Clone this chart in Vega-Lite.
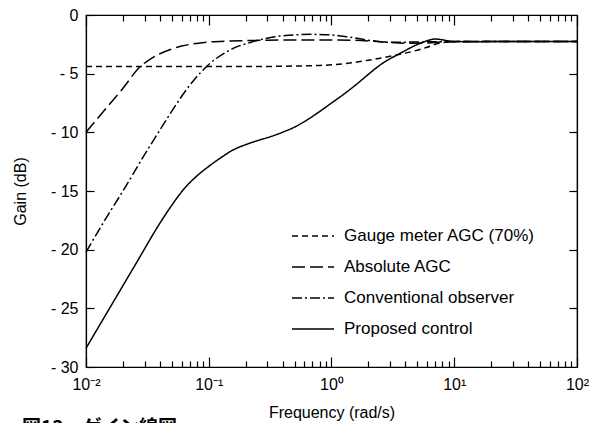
{
  "$schema": "https://vega.github.io/schema/vega-lite/v6.json",
  "autosize": {"type": "none"},
  "width": 491,
  "height": 352,
  "padding": {"left": 86, "top": 15, "right": 24, "bottom": 56},
  "background": "white",
  "config": {
    "view": {"stroke": "black", "strokeWidth": 1.2},
    "font": "Liberation Sans",
    "axis": {
      "domainColor": "black", "domainWidth": 1.2, "tickColor": "black", "tickWidth": 1.2,
      "labelColor": "black", "labelFont": "Liberation Sans", "labelFontSize": 16,
      "titleColor": "black", "titleFont": "Liberation Sans", "titleFontSize": 16, "titleFontWeight": "normal",
      "grid": false
    },
    "legend": {"labelFont": "Liberation Sans", "labelFontSize": 17, "labelColor": "black", "labelLimit": 400}
  },
  "title": {
    "text": "図13　ゲイン線図",
    "orient": "bottom", "anchor": "start", "frame": "group", "dx": -64, "offset": -1,
    "font": "Noto Sans CJK JP", "fontSize": 19, "fontWeight": "bold", "color": "black"
  },
  "data": {"values": [
    {"s": "Gauge meter AGC (70%)", "f": 0.01, "g": -4.38},
    {"s": "Gauge meter AGC (70%)", "f": 0.03, "g": -4.38},
    {"s": "Gauge meter AGC (70%)", "f": 0.1, "g": -4.38},
    {"s": "Gauge meter AGC (70%)", "f": 0.3, "g": -4.38},
    {"s": "Gauge meter AGC (70%)", "f": 0.5, "g": -4.35},
    {"s": "Gauge meter AGC (70%)", "f": 0.8, "g": -4.3},
    {"s": "Gauge meter AGC (70%)", "f": 1.0, "g": -4.25},
    {"s": "Gauge meter AGC (70%)", "f": 1.5, "g": -4.05},
    {"s": "Gauge meter AGC (70%)", "f": 2.0, "g": -3.85},
    {"s": "Gauge meter AGC (70%)", "f": 3.0, "g": -3.52},
    {"s": "Gauge meter AGC (70%)", "f": 4.0, "g": -3.25},
    {"s": "Gauge meter AGC (70%)", "f": 5.0, "g": -3.0},
    {"s": "Gauge meter AGC (70%)", "f": 6.0, "g": -2.75},
    {"s": "Gauge meter AGC (70%)", "f": 7.0, "g": -2.5},
    {"s": "Gauge meter AGC (70%)", "f": 8.0, "g": -2.35},
    {"s": "Gauge meter AGC (70%)", "f": 10, "g": -2.27},
    {"s": "Gauge meter AGC (70%)", "f": 20, "g": -2.25},
    {"s": "Gauge meter AGC (70%)", "f": 100, "g": -2.25},
    {"s": "Absolute AGC", "f": 0.01, "g": -10.0},
    {"s": "Absolute AGC", "f": 0.015, "g": -7.8},
    {"s": "Absolute AGC", "f": 0.02, "g": -6.25},
    {"s": "Absolute AGC", "f": 0.0276, "g": -4.4},
    {"s": "Absolute AGC", "f": 0.033, "g": -3.8},
    {"s": "Absolute AGC", "f": 0.04, "g": -3.3},
    {"s": "Absolute AGC", "f": 0.05, "g": -2.9},
    {"s": "Absolute AGC", "f": 0.06, "g": -2.65},
    {"s": "Absolute AGC", "f": 0.08, "g": -2.42},
    {"s": "Absolute AGC", "f": 0.1, "g": -2.3},
    {"s": "Absolute AGC", "f": 0.15, "g": -2.22},
    {"s": "Absolute AGC", "f": 0.3, "g": -2.15},
    {"s": "Absolute AGC", "f": 0.6, "g": -2.12},
    {"s": "Absolute AGC", "f": 1.0, "g": -2.13},
    {"s": "Absolute AGC", "f": 1.5, "g": -2.15},
    {"s": "Absolute AGC", "f": 2.5, "g": -2.27},
    {"s": "Absolute AGC", "f": 4.0, "g": -2.4},
    {"s": "Absolute AGC", "f": 6.0, "g": -2.38},
    {"s": "Absolute AGC", "f": 8.0, "g": -2.3},
    {"s": "Absolute AGC", "f": 10, "g": -2.27},
    {"s": "Absolute AGC", "f": 100, "g": -2.25},
    {"s": "Conventional observer", "f": 0.01, "g": -20.2},
    {"s": "Conventional observer", "f": 0.015, "g": -17.1},
    {"s": "Conventional observer", "f": 0.02, "g": -15.0},
    {"s": "Conventional observer", "f": 0.03, "g": -11.9},
    {"s": "Conventional observer", "f": 0.04, "g": -9.8},
    {"s": "Conventional observer", "f": 0.05, "g": -8.2},
    {"s": "Conventional observer", "f": 0.06, "g": -6.95},
    {"s": "Conventional observer", "f": 0.075, "g": -5.6},
    {"s": "Conventional observer", "f": 0.099, "g": -4.26},
    {"s": "Conventional observer", "f": 0.149, "g": -2.98},
    {"s": "Conventional observer", "f": 0.23, "g": -2.27},
    {"s": "Conventional observer", "f": 0.38, "g": -1.8},
    {"s": "Conventional observer", "f": 0.7, "g": -1.65},
    {"s": "Conventional observer", "f": 1.0, "g": -1.7},
    {"s": "Conventional observer", "f": 1.33, "g": -1.85},
    {"s": "Conventional observer", "f": 1.94, "g": -2.13},
    {"s": "Conventional observer", "f": 3.0, "g": -2.33},
    {"s": "Conventional observer", "f": 5.0, "g": -2.3},
    {"s": "Conventional observer", "f": 10, "g": -2.27},
    {"s": "Conventional observer", "f": 100, "g": -2.25},
    {"s": "Proposed control", "f": 0.01, "g": -28.4},
    {"s": "Proposed control", "f": 0.0251, "g": -21.32},
    {"s": "Proposed control", "f": 0.0398, "g": -17.78},
    {"s": "Proposed control", "f": 0.0501, "g": -16.2},
    {"s": "Proposed control", "f": 0.0631, "g": -14.8},
    {"s": "Proposed control", "f": 0.0794, "g": -13.75},
    {"s": "Proposed control", "f": 0.1, "g": -12.9},
    {"s": "Proposed control", "f": 0.126, "g": -12.15},
    {"s": "Proposed control", "f": 0.158, "g": -11.5},
    {"s": "Proposed control", "f": 0.2, "g": -11.05},
    {"s": "Proposed control", "f": 0.251, "g": -10.7},
    {"s": "Proposed control", "f": 0.316, "g": -10.38},
    {"s": "Proposed control", "f": 0.398, "g": -10.0},
    {"s": "Proposed control", "f": 0.501, "g": -9.55},
    {"s": "Proposed control", "f": 0.631, "g": -8.95},
    {"s": "Proposed control", "f": 0.794, "g": -8.25},
    {"s": "Proposed control", "f": 1.0, "g": -7.5},
    {"s": "Proposed control", "f": 1.26, "g": -6.75},
    {"s": "Proposed control", "f": 1.58, "g": -5.95},
    {"s": "Proposed control", "f": 2.0, "g": -5.05},
    {"s": "Proposed control", "f": 2.49, "g": -4.26},
    {"s": "Proposed control", "f": 3.62, "g": -3.27},
    {"s": "Proposed control", "f": 5.27, "g": -2.42},
    {"s": "Proposed control", "f": 7.0, "g": -2.05},
    {"s": "Proposed control", "f": 9.27, "g": -2.22},
    {"s": "Proposed control", "f": 12, "g": -2.27},
    {"s": "Proposed control", "f": 100, "g": -2.25}
  ]},
  "resolve": {"axis": {"x": "independent", "y": "independent"}},
  "layer": [
    {
      "mark": {"type": "line", "color": "black", "strokeWidth": 1.5, "interpolate": "monotone"},
      "encoding": {
        "x": {
          "field": "f", "type": "quantitative",
          "scale": {"type": "log", "domain": [0.01, 100], "nice": false},
          "axis": {
            "orient": "bottom", "title": "Frequency (rad/s)", "titlePadding": 8,
            "values": [0.01,0.02,0.03,0.04,0.05,0.06,0.07,0.08,0.09,0.1,0.2,0.3,0.4,0.5,0.6,0.7,0.8,0.9,1,2,3,4,5,6,7,8,9,10,20,30,40,50,60,70,80,90,100],
            "tickSize": {"condition": {"test": "datum.value == 0.01 || datum.value == 0.1 || datum.value == 1 || datum.value == 10 || datum.value == 100", "value": -10}, "value": -6},
            "labelExpr": "datum.value == 0.01 ? '10⁻²' : datum.value == 0.1 ? '10⁻¹' : datum.value == 1 ? '10⁰' : datum.value == 10 ? '10¹' : datum.value == 100 ? '10²' : ''",
            "labelPadding": 19, "labelOverlap": false, "labelFlush": false
          }
        },
        "y": {
          "field": "g", "type": "quantitative",
          "scale": {"domain": [-30, 0], "nice": false, "zero": false},
          "axis": {
            "orient": "left", "title": "Gain (dB)", "titlePadding": 22,
            "values": [0, -5, -10, -15, -20, -25, -30],
            "tickSize": -8, "labelPadding": 16,
            "labelExpr": "datum.value == 0 ? '0' : '- ' + abs(datum.value)"
          }
        },
        "strokeDash": {
          "field": "s", "type": "nominal",
          "scale": {
            "domain": ["Gauge meter AGC (70%)", "Absolute AGC", "Conventional observer", "Proposed control"],
            "range": [[6, 4], [13, 5], [10, 3, 2, 3], [1, 0]]
          },
          "legend": {
            "title": null, "orient": "none", "legendX": 205, "legendY": 199,
            "symbolType": "stroke", "symbolSize": 1764, "symbolStrokeWidth": 1.5,
            "symbolStrokeColor": "black", "labelOffset": 9, "rowPadding": 1, "padding": 0
          }
        }
      }
    },
    {
      "mark": {"type": "point", "opacity": 0},
      "encoding": {
        "x": {
          "field": "f", "type": "quantitative",
          "scale": {"type": "log", "domain": [0.01, 100], "nice": false},
          "axis": {
            "orient": "top", "title": null, "labels": false,
            "values": [0.01,0.02,0.03,0.04,0.05,0.06,0.07,0.08,0.09,0.1,0.2,0.3,0.4,0.5,0.6,0.7,0.8,0.9,1,2,3,4,5,6,7,8,9,10,20,30,40,50,60,70,80,90,100],
            "tickSize": {"condition": {"test": "datum.value == 0.01 || datum.value == 0.1 || datum.value == 1 || datum.value == 10 || datum.value == 100", "value": -10}, "value": -6}
          }
        },
        "y": {
          "field": "g", "type": "quantitative",
          "scale": {"domain": [-30, 0], "nice": false, "zero": false},
          "axis": {
            "orient": "right", "title": null, "labels": false,
            "values": [-5, -10, -15, -20, -25], "tickSize": -8
          }
        }
      }
    }
  ]
}
